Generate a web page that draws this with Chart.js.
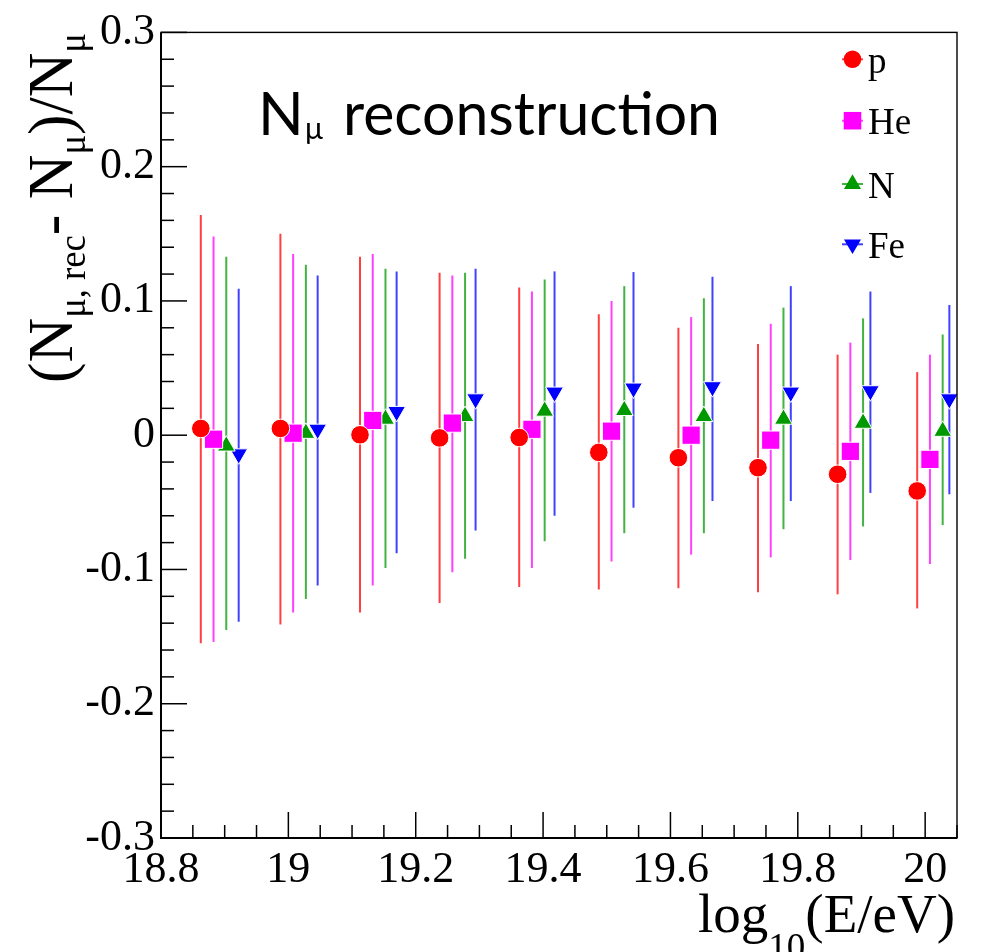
<!DOCTYPE html>
<html><head><meta charset="utf-8">
<script src="https://cdn.jsdelivr.net/npm/chart.js@4.4.1/dist/chart.umd.min.js"></script>
<style>html,body{margin:0;padding:0;background:#fff;}canvas{display:block;}</style>
</head><body>
<canvas id="c" width="983" height="952"></canvas>
<script>
// ---- data ----
const xTicks = [18.8, 19.0, 19.2, 19.4, 19.6, 19.8, 20.0];
const yTicks = [-0.3, -0.2, -0.1, 0, 0.1, 0.2, 0.3];
const seriesNames = ['p', 'He', 'N', 'Fe'];

const xP  = [18.8625, 18.9875, 19.1125, 19.2375, 19.3625, 19.4875, 19.6125, 19.7375, 19.8625, 19.9875];
const xHe = [18.8825, 19.0075, 19.1325, 19.2575, 19.3825, 19.5075, 19.6325, 19.7575, 19.8825, 20.0075];
const xN  = [18.9025, 19.0275, 19.1525, 19.2775, 19.4025, 19.5275, 19.6525, 19.7775, 19.9025, 20.0275];
const xFe = [18.922, 19.046, 19.170, 19.294, 19.418, 19.542, 19.666, 19.789, 19.914, 20.038];

const pMean  = [0.005, 0.005, 0.0003, -0.002, -0.0017, -0.0128, -0.0168, -0.0242, -0.0291, -0.0415];
const pHigh  = [0.164, 0.150, 0.133, 0.121, 0.110, 0.090, 0.080, 0.068, 0.060, 0.047];
const pLow   = [-0.155, -0.141, -0.132, -0.125, -0.113, -0.115, -0.114, -0.117, -0.1185, -0.129];

const heMean = [-0.003, 0.0015, 0.011, 0.009, 0.0044, 0.003, 0.0, -0.0037, -0.012, -0.018];
const heHigh = [0.148, 0.135, 0.135, 0.119, 0.107, 0.100, 0.088, 0.083, 0.069, 0.060];
const heLow  = [-0.154, -0.132, -0.112, -0.102, -0.099, -0.094, -0.089, -0.091, -0.093, -0.096];

const nMean  = [-0.008, 0.0015, 0.012, 0.014, 0.018, 0.0185, 0.014, 0.012, 0.009, 0.003];
const nHigh  = [0.133, 0.127, 0.124, 0.121, 0.116, 0.111, 0.102, 0.095, 0.087, 0.075];
const nLow   = [-0.145, -0.122, -0.099, -0.092, -0.079, -0.073, -0.073, -0.070, -0.068, -0.067];

const feMean = [-0.014, 0.0044, 0.0176, 0.027, 0.032, 0.035, 0.036, 0.032, 0.033, 0.027];
const feHigh = [0.109, 0.119, 0.122, 0.124, 0.122, 0.1215, 0.118, 0.111, 0.107, 0.097];
const feLow  = [-0.139, -0.112, -0.088, -0.071, -0.060, -0.054, -0.049, -0.049, -0.043, -0.044];

// ---- styling ----
const markerColors = ['#ff0000', '#ff00ff', '#009900', '#0000ff'];
const barColors = ['rgba(255,0,0,0.75)', 'rgba(255,0,255,0.75)', 'rgba(0,153,0,0.75)', 'rgba(0,0,255,0.75)'];
const SERIF = "'Liberation Serif', 'Times New Roman', serif";

Chart.defaults.font.family = SERIF;

function pts(xs, ys) { return xs.map((x, i) => ({ x: x, y: ys[i] })); }

const datasets = [
  { label: 'p',  data: pts(xP, pMean),   errHi: pHigh,  errLo: pLow,  pointStyle: 'circle',   pointRadius: 9.3,  pointRotation: 0 },
  { label: 'He', data: pts(xHe, heMean), errHi: heHigh, errLo: heLow, pointStyle: 'rect',     pointRadius: 12.9, pointRotation: 0 },
  { label: 'N',  data: pts(xN, nMean),   errHi: nHigh,  errLo: nLow,  pointStyle: 'triangle', pointRadius: 10.3, pointRotation: 0 },
  { label: 'Fe', data: pts(xFe, feMean), errHi: feHigh, errLo: feLow, pointStyle: 'triangle', pointRadius: 10.3, pointRotation: 180 }
].map((d, i) => Object.assign(d, {
  backgroundColor: markerColors[i],
  borderColor: '#ffffff',
  borderWidth: 1,
  pointBackgroundColor: markerColors[i],
  pointBorderColor: '#ffffff',
  pointBorderWidth: 1,
  showLine: false
}));

function drawRich(ctx, parts, mainFont, subFont, subShift) {
  let x = 0;
  for (const p of parts) {
    ctx.font = p.sub ? subFont : mainFont;
    ctx.fillText(p.t, x, p.sub ? subShift : 0);
    x += ctx.measureText(p.t).width;
  }
  return x;
}
function richWidth(ctx, parts, mainFont, subFont) {
  let w = 0;
  for (const p of parts) { ctx.font = p.sub ? subFont : mainFont; w += ctx.measureText(p.t).width; }
  return w;
}

function drawMarker(ctx, style, r, rot, x, y, color) {
  ctx.save();
  ctx.fillStyle = color;
  ctx.beginPath();
  if (style === 'circle') {
    ctx.arc(x, y, r, 0, Math.PI * 2);
  } else if (style === 'rect') {
    const s = r * Math.SQRT1_2;
    ctx.rect(x - s, y - s, 2 * s, 2 * s);
  } else {
    let a = rot * Math.PI / 180;
    ctx.moveTo(x + Math.sin(a) * r, y - Math.cos(a) * r);
    a += 2 * Math.PI / 3;
    ctx.lineTo(x + Math.sin(a) * r, y - Math.cos(a) * r);
    a += 2 * Math.PI / 3;
    ctx.lineTo(x + Math.sin(a) * r, y - Math.cos(a) * r);
    ctx.closePath();
  }
  ctx.fill();
  ctx.restore();
}

const rootStyle = {
  id: 'rootStyle',
  beforeDatasetsDraw(chart) {
    const ctx = chart.ctx, ys = chart.scales.y;
    ctx.save();
    ctx.lineWidth = 2;
    chart.data.datasets.forEach((ds, d) => {
      const meta = chart.getDatasetMeta(d);
      ctx.strokeStyle = barColors[d];
      meta.data.forEach((el, i) => {
        ctx.beginPath();
        ctx.moveTo(el.x, ys.getPixelForValue(ds.errLo[i]));
        ctx.lineTo(el.x, ys.getPixelForValue(ds.errHi[i]));
        ctx.stroke();
      });
    });
    ctx.restore();
  },
  afterDatasetsDraw(chart) {
    const ctx = chart.ctx, a = chart.chartArea, xs = chart.scales.x, ys = chart.scales.y;
    ctx.save();
    ctx.strokeStyle = '#000';
    ctx.lineWidth = 1.4;
    ctx.strokeRect(a.left, a.top, a.right - a.left, a.bottom - a.top);
    ctx.lineWidth = 2;
    ctx.beginPath();
    ctx.moveTo(a.left, a.top); ctx.lineTo(a.left, a.bottom); ctx.lineTo(a.right, a.bottom);
    ctx.stroke();
    ctx.lineWidth = 1.5;
    const yStep = yTicks[1] - yTicks[0];
    for (let k = 0; k < yTicks.length; k++) {
      for (let m = 0; m < 5; m++) {
        const v = yTicks[k] + m * yStep / 5;
        if (v > ys.max + 1e-9) continue;
        const py = ys.getPixelForValue(v);
        const len = m === 0 ? 26 : 13;
        ctx.beginPath(); ctx.moveTo(a.left, py); ctx.lineTo(a.left + len, py); ctx.stroke();
      }
    }
    const xStep = xTicks[1] - xTicks[0];
    for (let k = 0; k < xTicks.length; k++) {
      for (let m = 0; m < 4; m++) {
        const v = xTicks[k] + m * xStep / 4;
        if (v > xs.max + 1e-9) continue;
        const px = xs.getPixelForValue(v);
        const len = m === 0 ? 26 : 13;
        ctx.beginPath(); ctx.moveTo(px, a.bottom); ctx.lineTo(px, a.bottom - len); ctx.stroke();
      }
    }
    ctx.restore();
  },
  afterDraw(chart) {
    const ctx = chart.ctx;
    ctx.save();
    ctx.fillStyle = '#000';
    ctx.textBaseline = 'alphabetic';
    // plot title
    ctx.font = '60px Lato';
    ctx.fillText('N', 258, 135);
    ctx.font = '30px Lato';
    ctx.fillText('\u03bc', 305, 139);
    ctx.font = '60px Lato';
    const w = ctx.measureText('reconstruction').width;
    ctx.save();
    ctx.translate(343, 135);
    ctx.scale(377 / w, 1);
    ctx.fillText('reconstruction', 0, 0);
    ctx.restore();

    // x-axis title, right aligned
    const xParts = [{ t: 'log' }, { t: '10', sub: true }, { t: '(E/eV)' }];
    const xMain = '55px ' + SERIF, xSub = '37px ' + SERIF;
    const xw = richWidth(ctx, xParts, xMain, xSub);
    ctx.save();
    ctx.translate(955 - xw, 932);
    drawRich(ctx, xParts, xMain, xSub, 27);
    ctx.restore();

    // y-axis title, rotated
    const yParts = [{ t: '(N' }, { t: '\u03bc, rec', sub: true }, { t: '- N' }, { t: '\u03bc', sub: true }, { t: ')/N' }, { t: '\u03bc', sub: true }];
    const yMain = '64px ' + SERIF, ySub = '38px ' + SERIF;
    const yw = richWidth(ctx, yParts, yMain, ySub);
    ctx.save();
    ctx.translate(72, 383);
    ctx.rotate(-Math.PI / 2);
    ctx.scale(350 / yw, 1);
    drawRich(ctx, yParts, yMain, ySub, 13);
    ctx.restore();

    // legend
    const legY = [59.3, 120.7, 184, 244.3];
    datasets.forEach((d, i) => {
      ctx.save();
      ctx.strokeStyle = barColors[i];
      ctx.lineWidth = 2;
      ctx.beginPath(); ctx.moveTo(842, legY[i]); ctx.lineTo(863, legY[i]); ctx.stroke();
      ctx.restore();
      drawMarker(ctx, d.pointStyle, d.pointRadius - 0.5, d.pointRotation, 852.5, legY[i], markerColors[i]);
      ctx.font = '37px ' + SERIF;
      ctx.fillStyle = '#000';
      ctx.fillText(seriesNames[i], 868, legY[i] + 13.5);
    });
    ctx.restore();
  }
};

const fmt = v => String(+Number(v).toFixed(2));
const tickFont = { family: SERIF, size: 44, style: 'normal', weight: 'normal' };

new Chart(document.getElementById('c'), {
  type: 'scatter',
  data: { datasets: datasets },
  options: {
    responsive: false,
    animation: false,
    devicePixelRatio: 1,
    events: [],
    layout: { padding: { left: 0, right: 26, top: 28, bottom: 0 } },
    plugins: { legend: { display: false }, tooltip: { enabled: false }, title: { display: false } },
    scales: {
      x: {
        type: 'linear', min: 18.8, max: 20.05,
        afterBuildTicks: s => { s.ticks = xTicks.map(v => ({ value: v })); },
        afterFit: s => { s.height = 114; },
        grid: { display: false, drawTicks: false },
        border: { display: false },
        ticks: { font: tickFont, color: '#000', padding: 6, maxRotation: 0, autoSkip: false, callback: fmt }
      },
      y: {
        type: 'linear', min: -0.3, max: 0.3,
        afterBuildTicks: s => { s.ticks = yTicks.map(v => ({ value: v })); },
        afterFit: s => { s.width = 161; },
        grid: { display: false, drawTicks: false },
        border: { display: false },
        ticks: { font: tickFont, color: '#000', padding: 6, autoSkip: false, callback: fmt }
      }
    }
  },
  plugins: [rootStyle]
});
</script>
</body></html>
